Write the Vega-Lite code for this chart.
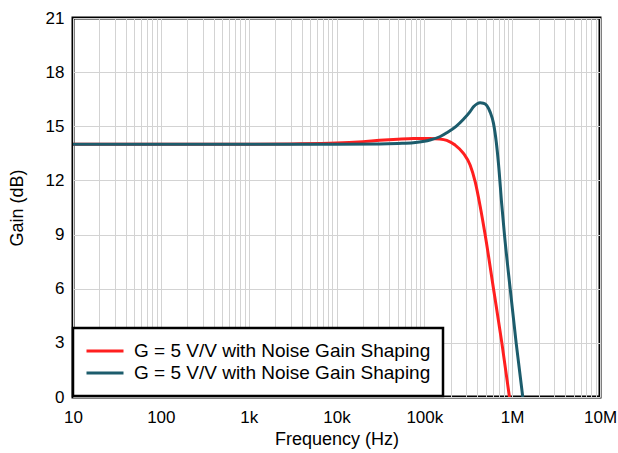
{
  "$schema": "https://vega.github.io/schema/vega-lite/v6.json",
  "width": 527,
  "height": 379,
  "autosize": {"type": "none"},
  "padding": {"left": 73, "top": 18, "right": 18, "bottom": 56},
  "background": "white",
  "config": {
    "font": "Liberation Sans",
    "view": {"stroke": "black", "strokeWidth": 3},
    "axis": {"domain": false, "ticks": false, "gridColor": "#d3d3d3", "gridWidth": 1, "labelColor": "black", "titleColor": "black", "labelFont": "Liberation Sans", "titleFont": "Liberation Sans", "titleFontWeight": "normal"},
    "legend": {"strokeWidth": 2.5}
  },
  "data": {
    "values": [
      {"s": "a", "f": 10, "g": 14.0},
      {"s": "a", "f": 100, "g": 14.0},
      {"s": "a", "f": 1000, "g": 14.0},
      {"s": "a", "f": 3000, "g": 14.02},
      {"s": "a", "f": 10000, "g": 14.07},
      {"s": "a", "f": 20000, "g": 14.15},
      {"s": "a", "f": 31000, "g": 14.22},
      {"s": "a", "f": 50000, "g": 14.28},
      {"s": "a", "f": 75000, "g": 14.32},
      {"s": "a", "f": 116000, "g": 14.33},
      {"s": "a", "f": 150000, "g": 14.3},
      {"s": "a", "f": 180000, "g": 14.22},
      {"s": "a", "f": 224000, "g": 13.96},
      {"s": "a", "f": 279000, "g": 13.5},
      {"s": "a", "f": 332000, "g": 12.85},
      {"s": "a", "f": 379000, "g": 11.93},
      {"s": "a", "f": 431000, "g": 10.6},
      {"s": "a", "f": 492000, "g": 9.0},
      {"s": "a", "f": 613000, "g": 6.0},
      {"s": "a", "f": 763000, "g": 3.0},
      {"s": "a", "f": 931000, "g": 0.0},
      {"s": "b", "f": 10, "g": 14.0},
      {"s": "b", "f": 100, "g": 14.0},
      {"s": "b", "f": 1000, "g": 14.0},
      {"s": "b", "f": 10000, "g": 14.0},
      {"s": "b", "f": 31000, "g": 14.02},
      {"s": "b", "f": 50000, "g": 14.05},
      {"s": "b", "f": 75000, "g": 14.09},
      {"s": "b", "f": 100000, "g": 14.17},
      {"s": "b", "f": 116000, "g": 14.24},
      {"s": "b", "f": 150000, "g": 14.42},
      {"s": "b", "f": 180000, "g": 14.64},
      {"s": "b", "f": 230000, "g": 15.0},
      {"s": "b", "f": 279000, "g": 15.39},
      {"s": "b", "f": 330000, "g": 15.8},
      {"s": "b", "f": 363000, "g": 16.08},
      {"s": "b", "f": 400000, "g": 16.25},
      {"s": "b", "f": 432000, "g": 16.3},
      {"s": "b", "f": 470000, "g": 16.28},
      {"s": "b", "f": 515000, "g": 16.15},
      {"s": "b", "f": 560000, "g": 15.8},
      {"s": "b", "f": 613000, "g": 15.16},
      {"s": "b", "f": 660000, "g": 14.1},
      {"s": "b", "f": 698000, "g": 12.95},
      {"s": "b", "f": 763000, "g": 10.6},
      {"s": "b", "f": 817000, "g": 9.0},
      {"s": "b", "f": 949000, "g": 6.0},
      {"s": "b", "f": 1110000, "g": 3.0},
      {"s": "b", "f": 1320000, "g": 0.0}
    ]
  },
  "mark": {"type": "line", "strokeWidth": 3, "interpolate": "monotone", "clip": true},
  "encoding": {
    "x": {
      "field": "f", "type": "quantitative",
      "scale": {"type": "log", "domain": [10, 10000000], "nice": false},
      "axis": {
        "title": "Frequency (Hz)", "titleFontSize": 18, "titlePadding": 5,
        "labelFontSize": 17, "labelPadding": 12, "labelOverlap": false, "labelFlush": false,
        "values": [10,20,30,40,50,60,70,80,90,100,200,300,400,500,600,700,800,900,1000,2000,3000,4000,5000,6000,7000,8000,9000,10000,20000,30000,40000,50000,60000,70000,80000,90000,100000,200000,300000,400000,500000,600000,700000,800000,900000,1000000,2000000,3000000,4000000,5000000,6000000,7000000,8000000,9000000,10000000],
        "labelExpr": "datum.value == 10 ? '10' : datum.value == 100 ? '100' : datum.value == 1000 ? '1k' : datum.value == 10000 ? '10k' : datum.value == 100000 ? '100k' : datum.value == 1000000 ? '1M' : datum.value == 10000000 ? '10M' : ''"
      }
    },
    "y": {
      "field": "g", "type": "quantitative",
      "scale": {"domain": [0, 21], "nice": false},
      "axis": {"title": "Gain (dB)", "titleFontSize": 18, "titlePadding": 19, "labelFontSize": 17, "labelPadding": 9, "values": [0,3,6,9,12,15,18,21]}
    },
    "color": {
      "field": "s", "type": "nominal",
      "scale": {"domain": ["a", "b"], "range": ["#ff1f1f", "#1c5c6c"]},
      "legend": {
        "title": null, "orient": "none", "legendX": 0, "legendY": 310,
        "labelExpr": "'G = 5 V/V with Noise Gain Shaping'",
        "labelFontSize": 19, "labelColor": "black", "labelLimit": 400, "labelOffset": 9,
        "symbolType": "stroke", "symbolSize": 1369, "symbolStrokeWidth": 3, "symbolOffset": 0,
        "clipHeight": 22,
        "strokeColor": "black", "fillColor": "white", "padding": 12, "rowPadding": 0
      }
    }
  }
}
